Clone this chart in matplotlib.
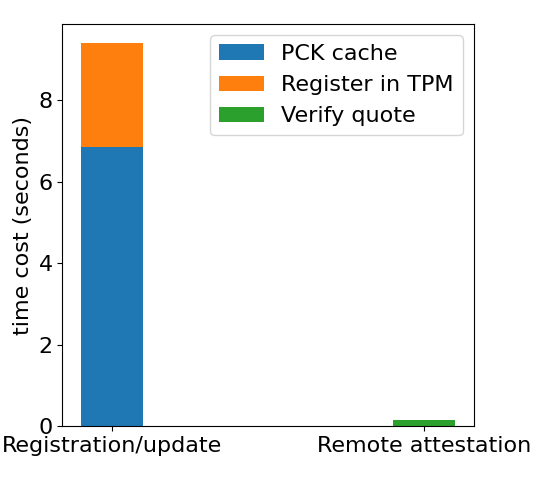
import matplotlib.pyplot as plt
import numpy as np

categories = ["Registration/update", "Remote attestation"]
pck_cache = [6.85, 0.0]
register_tpm = [2.55, 0.0]
verify_quote = [0.0, 0.15]

plt.rcParams["font.size"] = 16

fig, ax = plt.subplots(figsize=(5.33, 4.8), dpi=100)
x = np.arange(len(categories))
width = 0.2

ax.bar(x, pck_cache, width, label="PCK cache")
ax.bar(x, register_tpm, width, bottom=pck_cache, label="Register in TPM")
ax.bar(x, verify_quote, width, label="Verify quote")

ax.set_xticks(x)
ax.set_xticklabels(categories)
ax.set_ylabel("time cost (seconds)")
ax.legend()

fig.subplots_adjust(left=0.117, right=0.889, top=0.95, bottom=0.112)
fig.savefig("out.png")
